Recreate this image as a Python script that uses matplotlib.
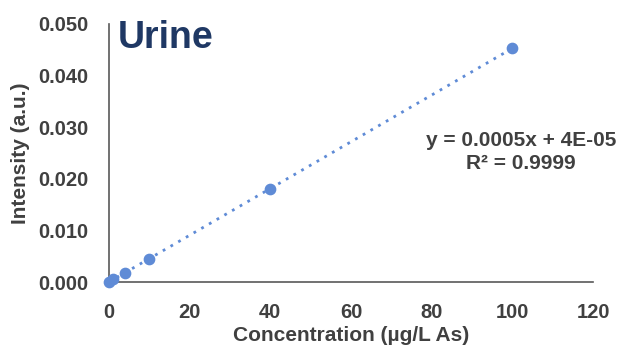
import numpy as np
import matplotlib
matplotlib.use("Agg")
import matplotlib.pyplot as plt

plt.rcParams['font.family'] = ['Liberation Sans', 'DejaVu Sans']

# calibration data
conc = [0, 1, 4, 10, 40, 100]
intensity = [0.0, 0.0006, 0.00175, 0.00447, 0.0181, 0.0453]
xticks = [0, 20, 40, 60, 80, 100, 120]
yticks = [0.0, 0.01, 0.02, 0.03, 0.04, 0.05]

dot_color = "#5f8bd6"
text_color = "#404040"

fig = plt.figure(figsize=(6.2, 3.48), dpi=100)
ax = fig.add_axes([109 / 620, 1 - 282 / 348, (593 - 109) / 620, (282 - 24) / 348])

# trendline
slope, icpt = np.polyfit(conc, intensity, 1)
xs = np.array([conc[0], conc[-1]])
ax.plot(xs, slope * xs + icpt, linestyle=(0, (1, 2.2)), color=dot_color, lw=2)
ax.scatter(conc, intensity, s=55, color=dot_color, zorder=3, clip_on=False)

ax.set_xlim(0, 120)
ax.set_ylim(0, 0.05)
ax.set_xticks(xticks)
ax.set_yticks(yticks)
ax.set_yticklabels([f"{v:.3f}" for v in yticks])
ax.tick_params(length=0, labelsize=14.5, colors=text_color, pad=15)
for lab in ax.get_xticklabels() + ax.get_yticklabels():
    lab.set_fontweight("bold")

for s in ["top", "right"]:
    ax.spines[s].set_visible(False)
for s in ["left", "bottom"]:
    ax.spines[s].set_color("#595959")
    ax.spines[s].set_linewidth(1.2)

ax.set_xlabel("Concentration (µg/L As)", fontsize=15, fontweight="bold", color=text_color, labelpad=3)
ax.set_ylabel("Intensity (a.u.)", fontsize=15, fontweight="bold", color=text_color, labelpad=6)

fig.text(118 / 620, 1 - 20 / 348, "Urine", fontsize=27, fontweight="bold",
         color="#1f3864", va="top", ha="left")

fig.text(521 / 620, 1 - 141 / 348, "y = 0.0005x + 4E-05",
         fontsize=15, fontweight="bold", color=text_color, ha="center", va="center")
fig.text(521 / 620, 1 - 163 / 348, "R² = 0.9999",
         fontsize=15, fontweight="bold", color=text_color, ha="center", va="center")

fig.savefig("out.png", dpi=100)
